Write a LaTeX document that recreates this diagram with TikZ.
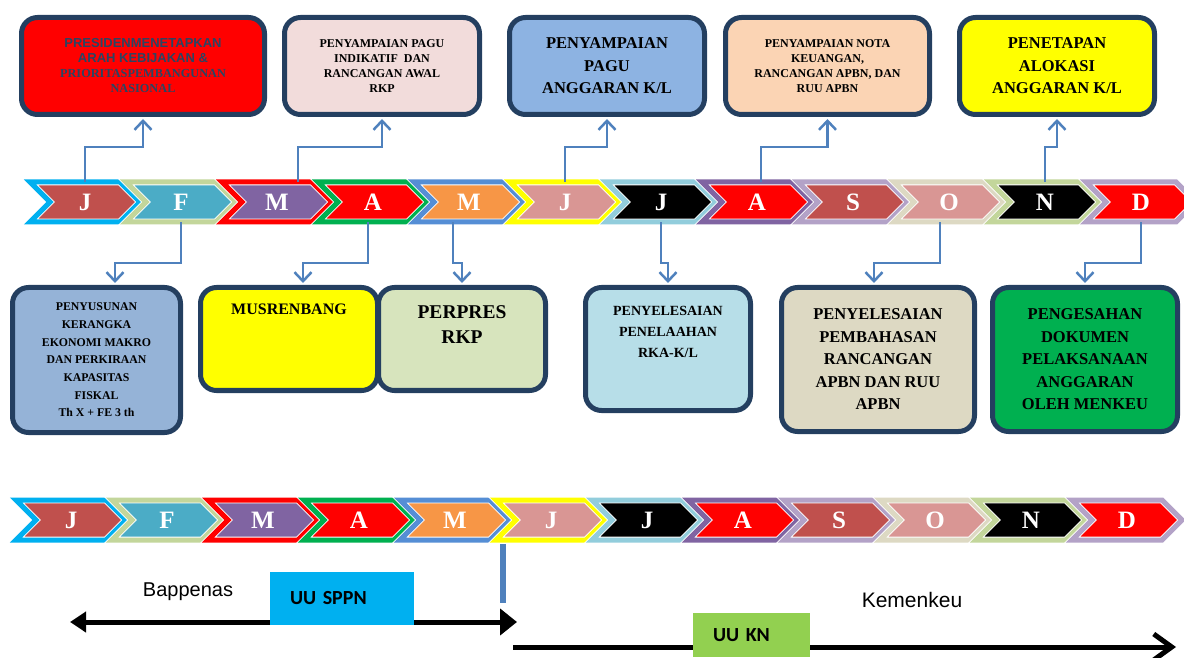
\documentclass[tikz,border=0pt]{standalone}
\usepackage{fontspec}
\setmainfont{Liberation Serif}
\setsansfont{Liberation Sans}
\newfontfamily\calfont{Carlito}
\usetikzlibrary{shapes.symbols,arrows.meta,positioning}

\definecolor{boxline}{HTML}{243F60}
\definecolor{slatetxt}{HTML}{2A4563}
\definecolor{connblue}{HTML}{4F81BD}
\definecolor{cyanb}{HTML}{00B0F0}
\definecolor{olivel}{HTML}{C3D69B}
\definecolor{redc}{HTML}{FF0000}
\definecolor{greenc}{HTML}{00B050}
\definecolor{blueb}{HTML}{558ED5}
\definecolor{yellowc}{HTML}{FFFF00}
\definecolor{aquab}{HTML}{92CDDC}
\definecolor{purplec}{HTML}{8064A2}
\definecolor{lilac}{HTML}{B3A2C7}
\definecolor{tanb}{HTML}{DDD9C3}
\definecolor{brickc}{HTML}{C0504D}
\definecolor{tealc}{HTML}{4BACC6}
\definecolor{orangec}{HTML}{F79646}
\definecolor{rosec}{HTML}{D99694}
\definecolor{pinkbox}{HTML}{F2DCDB}
\definecolor{bluebox}{HTML}{8DB3E2}
\definecolor{peachbox}{HTML}{FBD4B4}
\definecolor{greybox}{HTML}{95B3D7}
\definecolor{olivebox}{HTML}{D7E4BD}
\definecolor{skybox}{HTML}{B7DEE8}
\definecolor{limec}{HTML}{92D050}

\begin{document}
\begin{tikzpicture}[x=1pt, y=1pt,
    box/.style={rectangle, draw=boxline, line width=5pt, rounded corners=16pt, align=center},
    chev/.style={signal, signal to=east, signal from=west, signal pointer angle=90,
        draw=white, line width=0.9pt, double=#1, double distance=5pt,
        minimum width=110pt, minimum height=40pt, inner sep=0pt,
        text=white, font=\bfseries\fontsize{25}{25}\selectfont},
    conn/.style={draw=connblue, line width=2.5pt, shorten >=2pt,
        -{Straight Barb[length=9pt,width=17pt]}},
    bigline/.style={draw=black, line width=5pt},
    lawbox/.style={rectangle, inner xsep=20pt, font=\calfont\bfseries\fontsize{20}{24}\selectfont},
    small/.style={font=\bfseries\fontsize{12}{15}\selectfont},
    large/.style={font=\bfseries\fontsize{16.5}{22.5}\selectfont}]

    \useasboundingbox (0,0) rectangle (1184,657);

    \node [box, fill=redc, minimum width=243pt, minimum height=97pt, text=slatetxt,
        font=\bfseries\fontsize{12.3}{15}\selectfont] (arah) at (143,591)
        {\sffamily\fontsize{13}{15}\selectfont PRESIDENMENETAPKAN\\
         \sffamily\fontsize{13}{15}\selectfont ARAH KEBIJAKAN \&\\
         \rmfamily PRIORITASPEMBANGUNAN\\ \rmfamily NASIONAL};
    \node [box, small, fill=pinkbox, minimum width=195pt, minimum height=97pt] (indikatif) at (382,591)
        {PENYAMPAIAN PAGU\\INDIKATIF\ \ DAN\\RANCANGAN AWAL\\RKP};
    \node [box, large, fill=bluebox, minimum width=195pt, minimum height=97pt] (paguKL) at (607,591)
        {PENYAMPAIAN\\PAGU\\ANGGARAN K/L};
    \node [box, small, fill=peachbox, minimum width=204pt, minimum height=97pt] (nota) at (827.5,591)
        {PENYAMPAIAN NOTA\\KEUANGAN,\\RANCANGAN APBN, DAN\\RUU APBN};
    \node [box, large, fill=yellowc, minimum width=195pt, minimum height=97pt] (alokasi) at (1057,591)
        {PENETAPAN\\ALOKASI\\ANGGARAN K/L};

    \foreach \m/\bc/\fc [count=\i] in {J/cyanb/brickc, F/olivel/tealc, M/redc/purplec,
        A/greenc/redc, M/blueb/orangec, J/yellowc/rosec, J/aquab/black, A/purplec/redc,
        S/lilac/brickc, O/tanb/rosec, N/olivel/black, D/lilac/redc}
    {
        \node [chev=\bc, fill=\fc] (mt\i) at ({85+96*(\i-1)},455) {\m};
        \node [chev=\bc, fill=\fc] (mb\i) at ({71+96*(\i-1)},137) {\m};
    }

    \node [box, fill=greybox, minimum width=168pt, minimum height=145pt,
        font=\bfseries\fontsize{11.8}{17.7}\selectfont] (kerangka) at (96.5,297)
        {PENYUSUNAN\\KERANGKA\\EKONOMI MAKRO\\DAN PERKIRAAN\\KAPASITAS\\FISKAL\\Th X + FE 3 th};
    \node [box, fill=yellowc, minimum width=177pt, minimum height=103pt] (musrenbang) at (289,318) {};
    \node [font=\bfseries\fontsize{16}{19}\selectfont] (musrenbangtxt)
        at ([yshift=-24.5pt]musrenbang.north) {MUSRENBANG};
    \node [box, fill=olivebox, minimum width=167pt, minimum height=103pt] (perpres) at (462,318) {};
    \node [align=center, font=\bfseries\fontsize{19.5}{25}\selectfont] (perprestxt)
        at ([yshift=-40pt]perpres.north) {PERPRES\\RKP};
    \node [box, fill=skybox, minimum width=165pt, minimum height=123pt] (penelaahan) at (668,308) {};
    \node [align=center, font=\bfseries\fontsize{14}{21}\selectfont] (penelaahantxt)
        at ([yshift=-46.5pt]penelaahan.north) {PENYELESAIAN\\PENELAAHAN\\RKA-K/L};
    \node [box, large, fill=tanb, minimum width=193pt, minimum height=144pt] (pembahasan) at (878,297.5)
        {PENYELESAIAN\\PEMBAHASAN\\RANCANGAN\\APBN DAN RUU\\APBN};
    \node [box, large, fill=greenc, minimum width=185pt, minimum height=144pt] (pengesahan) at (1085,297.5)
        {PENGESAHAN\\DOKUMEN\\PELAKSANAAN\\ANGGARAN\\OLEH MENKEU};

    \draw [conn] (mt1.north) -- ++(0,34.5) -| (arah.south);
    \draw [conn] ([xshift=21pt]mt3.north) -- ++(0,34.5) -| (indikatif.south);
    \draw [conn] (mt6.north) -- ++(0,34.5) -| (paguKL.south);
    \draw [conn] ([xshift=4pt]mt8.north) -- ++(0,34.5) -| (nota.south);
    \draw [conn] (mt11.north) -- ++(0,34.5) -| (alokasi.south);

    \draw [conn] (mt2.south) -- ++(0,-40.5) -| ([xshift=18.5pt]kerangka.north);
    \draw [conn] ([xshift=-5pt]mt4.south) -- ++(0,-40.5) -| ([xshift=14pt]musrenbang.north);
    \draw [conn] ([xshift=-16pt]mt5.south) -- ++(0,-40.5) -| (perpres.north);
    \draw [conn] (mt7.south) -- ++(0,-40.5) -| (penelaahan.north);
    \draw [conn] ([xshift=-9pt]mt10.south) -- ++(0,-40.5) -| ([xshift=-4pt]pembahasan.north);
    \draw [conn] (mt12.south) -- ++(0,-40.5) -| (pengesahan.north);

    \coordinate (splittop) at (503,113);
    \coordinate (splitbot) at (503,54);
    \draw [connblue, line width=6pt] (splittop) -- (splitbot);

    \coordinate (bapL) at (70,35);
    \coordinate (bapR) at (517,35);
    \draw [bigline, {Triangle[length=16pt,width=20pt]}-{Triangle[length=17pt,width=26pt]}] (bapL) -- (bapR);
    \node [lawbox, fill=cyanb, minimum width=144pt, minimum height=53pt, text width=104pt] (sppn)
        at (342,58.5) {UU SPPN};
    \node [font=\sffamily\fontsize{20}{24}\selectfont] (bappenas) at (188,65) {Bappenas};

    \coordinate (kemL) at (513,10);
    \coordinate (kemR) at (1176,10);
    \draw [bigline, -{Straight Barb[length=18pt,width=26pt]}] (kemL) -- (kemR);
    \node [lawbox, fill=limec, minimum width=117pt, minimum height=44pt, text width=77pt] (uukn)
        at (751.5,22) {UU KN};
    \node [font=\sffamily\fontsize{21}{24}\selectfont] (kemenkeu) at (912,57) {Kemenkeu};
\end{tikzpicture}
\end{document}
